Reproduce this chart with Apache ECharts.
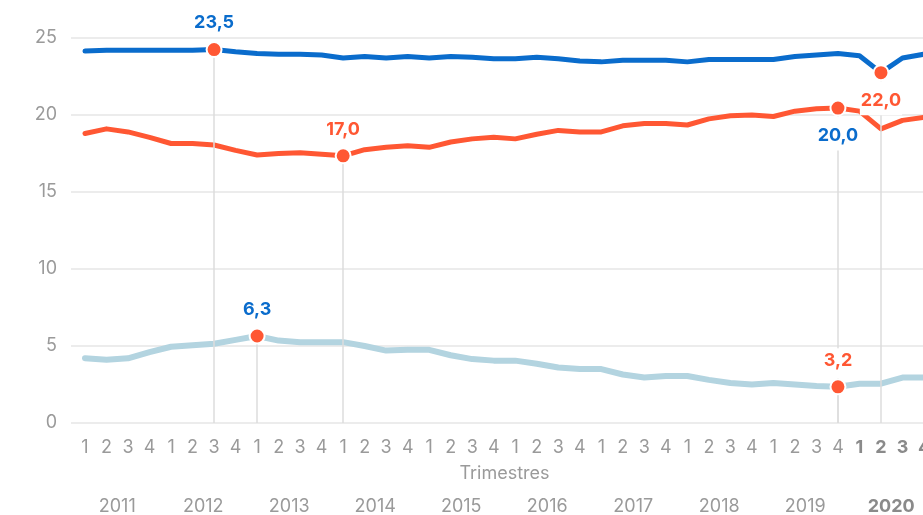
<!DOCTYPE html>
<html>
<head>
<meta charset="utf-8">
<script src="https://cdn.jsdelivr.net/npm/echarts@6/dist/echarts.min.js"></script>
<style>
  html, body { margin: 0; padding: 0; background: #fff; }
  #chart { width: 923px; height: 515px; }
</style>
</head>
<body>
<div id="chart"></div>
<script>
// --- data ---
const years = ["2011", "2012", "2013", "2014", "2015", "2016", "2017", "2018", "2019", "2020"];
const quarters = ["1", "2", "3", "4"];
const yMin = 0;
const yMax = 25;
const yStep = 5;

const blueValues = [
  24.15, 24.2, 24.2, 24.2, 24.2, 24.2, 24.25, 24.1,
  24.0, 23.95, 23.95, 23.9, 23.7, 23.8, 23.7, 23.8,
  23.7, 23.8, 23.75, 23.65, 23.65, 23.75, 23.65, 23.5,
  23.45, 23.55, 23.55, 23.55, 23.45, 23.6, 23.6, 23.6,
  23.6, 23.8, 23.9, 24.0, 23.85, 22.75, 23.7, 23.95
];
const orangeValues = [
  18.8, 19.1, 18.9, 18.55, 18.15, 18.15, 18.05, 17.7,
  17.4, 17.5, 17.55, 17.45, 17.35, 17.75, 17.9, 18.0,
  17.9, 18.25, 18.45, 18.55, 18.45, 18.75, 19.0, 18.9,
  18.9, 19.3, 19.45, 19.45, 19.35, 19.75, 19.95, 20.0,
  19.9, 20.25, 20.4, 20.45, 20.25, 19.1, 19.65, 19.85
];
const lightValues = [
  4.2, 4.1, 4.2, 4.6, 4.95, 5.05, 5.15, 5.4,
  5.65, 5.35, 5.25, 5.25, 5.25, 5.0, 4.7, 4.75,
  4.75, 4.4, 4.15, 4.05, 4.05, 3.85, 3.6, 3.5,
  3.5, 3.15, 2.95, 3.05, 3.05, 2.8, 2.6, 2.5,
  2.6, 2.5, 2.4, 2.35, 2.55, 2.55, 2.95, 2.95
];

// annotated points: series key, quarter, text shown, max/min, label placement
const annotations = [
  { serie: "azul", at: "2012 T3", text: "23,5", kind: "max", place: "above" },
  { serie: "azul", at: "2020 T2", text: "22,0", kind: "min", place: "below" },
  { serie: "naranja", at: "2014 T1", text: "17,0", kind: "min", place: "above" },
  { serie: "naranja", at: "2019 T4", text: "20,0", kind: "max", place: "below" },
  { serie: "celeste", at: "2013 T1", text: "6,3", kind: "max", place: "above" },
  { serie: "celeste", at: "2019 T4", text: "3,2", kind: "min", place: "above" }
];

// --- build ---
const categories = years.flatMap((y) => quarters.map((q) => y + " T" + q));
const lastYear = years[years.length - 1];
const seriesData = { azul: blueValues, naranja: orangeValues, celeste: lightValues };
const colors = { azul: "#0a6ccc", naranja: "#ff5733", celeste: "#b3d4e0" };
const labelColors = { max: "#0a6ccc", min: "#ff5733" };
const FONT = "Inter, 'Noto Sans', sans-serif";

function pointValue(a) {
  return seriesData[a.serie][categories.indexOf(a.at)];
}

function markPointFor(key) {
  return {
    symbol: "circle",
    symbolSize: 15,
    itemStyle: { color: "#ff5733", borderColor: "#fff", borderWidth: 2 },
    silent: true,
    animation: false,
    data: annotations
      .filter((a) => a.serie === key)
      .map((a) => {
        const v = pointValue(a);
        // a guide line passes through the label -> white mask
        const masked =
          a.place === "below" ||
          annotations.some((o) => o !== a && o.at === a.at && pointValue(o) > v);
        return {
          coord: [a.at, v],
          label: {
            show: true,
            formatter: a.text,
            position: a.place === "above" ? "top" : "bottom",
            distance: 0,
            color: labelColors[a.kind],
            fontFamily: FONT,
            fontSize: 18,
            fontWeight: "bold",
            padding: a.place === "above" ? [3, 1, 9, 1] : [10, 1, 6, 1],
            backgroundColor: masked ? "#fff" : "transparent"
          }
        };
      })
  };
}

function lineSeries(key, width) {
  return {
    name: key,
    type: "line",
    xAxisIndex: 1,
    yAxisIndex: 1,
    data: seriesData[key],
    showSymbol: false,
    symbol: "none",
    z: 2,
    lineStyle: { color: colors[key], width: width, cap: "round", join: "round" },
    itemStyle: { color: colors[key] },
    emphasis: { disabled: true },
    markPoint: markPointFor(key)
  };
}

var echart = echarts.init(document.getElementById("chart"));
const option = {
  animation: false,
  backgroundColor: "#fff",
  grid: [
    { left: 71, right: 0, top: 38, bottom: 92, outerBoundsMode: "none" },
    { left: 85, right: -1, top: 38, bottom: 92, outerBoundsMode: "none" },
    { left: 74.25, right: -11.25, top: 38, bottom: 92, outerBoundsMode: "none" }
  ],
  xAxis: [
    { gridIndex: 0, type: "value", show: false, min: 0, max: 1 },
    {
      gridIndex: 1,
      type: "category",
      data: categories,
      boundaryGap: false,
      axisLine: { show: false },
      axisTick: { show: false },
      splitLine: { show: false },
      axisLabel: {
        interval: 0,
        margin: 16,
        color: "#9a9a9a",
        fontFamily: FONT,
        fontSize: 18,
        formatter: (v) => {
          const [y, q] = v.split(" T");
          return y === lastYear ? "{b|" + q + "}" : q;
        },
        rich: { b: { fontWeight: "bold", color: "#8a8a8a", fontFamily: FONT, fontSize: 18 } }
      },
      name: "Trimestres",
      nameLocation: "middle",
      nameGap: 42,
      nameTextStyle: { color: "#9a9a9a", fontFamily: FONT, fontSize: 18 }
    },
    {
      gridIndex: 2,
      type: "category",
      data: years,
      boundaryGap: true,
      axisLine: { show: false },
      axisTick: { show: false },
      splitLine: { show: false },
      axisLabel: {
        interval: 0,
        margin: 75,
        color: "#9a9a9a",
        fontFamily: FONT,
        fontSize: 18,
        formatter: (v) => (v === lastYear ? "{b|" + v + "}" : v),
        rich: { b: { fontWeight: "bold", color: "#8a8a8a", fontFamily: FONT, fontSize: 18 } }
      }
    }
  ],
  yAxis: [
    {
      gridIndex: 0,
      type: "value",
      min: yMin,
      max: yMax,
      interval: yStep,
      axisLine: { show: false },
      axisTick: { show: false },
      axisLabel: { margin: 14, color: "#9a9a9a", fontFamily: FONT, fontSize: 18 },
      splitLine: { lineStyle: { color: "#e6e6e6", width: 1.5 } }
    },
    { gridIndex: 1, type: "value", min: yMin, max: yMax, show: false },
    { gridIndex: 2, type: "value", min: yMin, max: yMax, show: false }
  ],
  series: [
    {
      name: "guias",
      type: "line",
      xAxisIndex: 1,
      yAxisIndex: 1,
      data: [],
      z: 1,
      silent: true,
      markLine: {
        silent: true,
        animation: false,
        symbol: ["none", "none"],
        label: { show: false },
        emphasis: { disabled: true },
        lineStyle: { type: "solid", color: "#dddddd", width: 1.5 },
        data: annotations.map((a) => [
          { coord: [a.at, pointValue(a)] },
          { coord: [a.at, yMin] }
        ])
      }
    },
    lineSeries("celeste", 6),
    lineSeries("naranja", 5),
    lineSeries("azul", 5)
  ]
};
echart.setOption(option);
</script>
</body>
</html>
